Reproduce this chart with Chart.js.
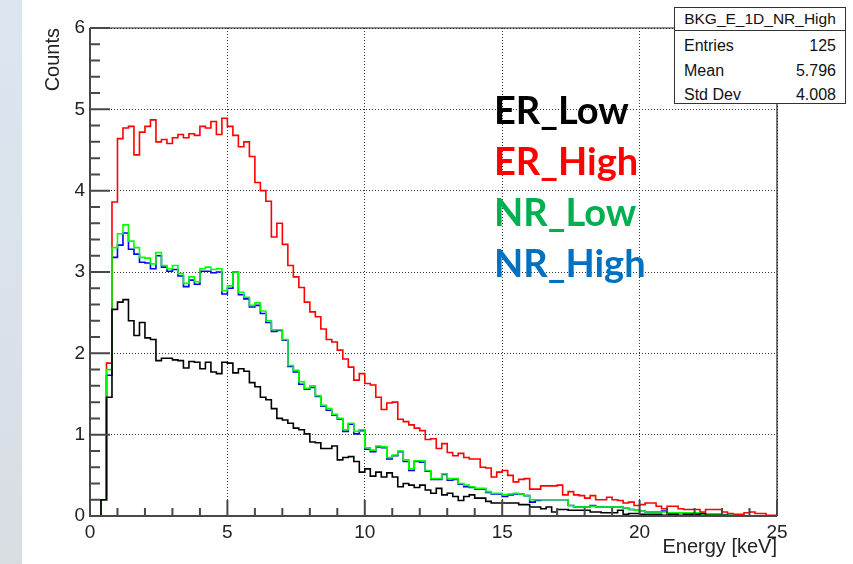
<!DOCTYPE html>
<html>
<head>
<meta charset="utf-8">
<title>BKG_E_1D</title>
<script src="https://cdn.jsdelivr.net/npm/chart.js@4.4.1/dist/chart.umd.min.js"></script>
<style>
  html, body { margin: 0; padding: 0; background: #fff; }
  #page { position: relative; width: 853px; height: 564px; overflow: hidden; background: #fff; }
  #strip { position: absolute; left: 0; top: 0; width: 22px; height: 564px;
           background: linear-gradient(#dce6f1, #d8dde2); }
  #plot { position: absolute; left: 0; top: 0; }
  .stats { position: absolute; left: 674px; width: 172px; background: #fff; border: 1px solid #333;
           font-family: "Liberation Sans", Arial, sans-serif; color: #111; box-sizing: border-box; }
  #statsTitle { top: 7px; height: 24px; font-size: 15.5px; line-height: 22px; text-align: center; }
  #statsBody { top: 30px; height: 74px; padding: 3px 9px 0 9px; font-size: 16px; }
  #statsBody .row { display: flex; justify-content: space-between; height: 24.5px; line-height: 24px; }
  .tag { position: absolute; left: 494px; font-family: Lato, "Open Sans", sans-serif; font-weight: 700;
         font-size: 38px; line-height: 38px; white-space: nowrap; }
</style>
</head>
<body>
<div id="page">
  <div id="strip"></div>
  <canvas id="plot" width="853" height="564"></canvas>
  <div class="stats" id="statsTitle"></div>
  <div class="stats" id="statsBody"></div>
  <div id="tags"></div>
</div>
<script>
// histogram binning: 125 bins of 0.2 keV from 0 to 25 keV
const binWidth = 0.2;
const xRange = [0, 25];
const yRange = [0, 6];

// counts per bin
const erLow = [
  0, 0, 0.20, 1.46, 2.54, 2.63, 2.66, 2.40, 2.22, 2.38,
  2.19, 2.17, 1.91, 1.94, 1.94, 1.92, 1.91, 1.82, 1.90, 1.89,
  1.81, 1.89, 1.77, 1.75, 1.89, 1.88, 1.76, 1.81, 1.78, 1.64,
  1.59, 1.46, 1.43, 1.32, 1.20, 1.18, 1.14, 1.08, 1.06, 1.01,
  0.91, 0.90, 0.83, 0.83, 0.86, 0.69, 0.72, 0.73, 0.67, 0.54,
  0.58, 0.49, 0.54, 0.48, 0.53, 0.48, 0.36, 0.40, 0.38, 0.35,
  0.38, 0.32, 0.28, 0.34, 0.26, 0.28, 0.24, 0.19, 0.24, 0.26,
  0.22, 0.22, 0.18, 0.16, 0.16, 0.16, 0.16, 0.16, 0.14, 0.14,
  0.11, 0.11, 0.09, 0.11, 0.05, 0.08, 0.08, 0.07, 0.07, 0.07,
  0.07, 0.05, 0.05, 0.04, 0.04, 0.04, 0.07, 0.02, 0.03, 0.03,
  0.02, 0.02, 0.02, 0.02, 0.01, 0.02, 0.02, 0.01, 0.02, 0.02,
  0.02, 0.03, 0.01, 0.01, 0.01, 0.01, 0, 0, 0, 0,
  0, 0, 0, 0, 0
];
const erHigh = [
  0, 0, 0.20, 1.88, 3.86, 4.64, 4.77, 4.79, 4.44, 4.72,
  4.79, 4.87, 4.60, 4.63, 4.58, 4.65, 4.69, 4.65, 4.70, 4.68,
  4.79, 4.77, 4.85, 4.69, 4.89, 4.79, 4.68, 4.54, 4.60, 4.42,
  4.10, 4.00, 3.87, 3.43, 3.60, 3.34, 3.08, 2.94, 2.81, 2.63,
  2.51, 2.45, 2.30, 2.17, 2.14, 2.04, 1.93, 1.83, 1.67, 1.75,
  1.63, 1.61, 1.46, 1.31, 1.39, 1.40, 1.19, 1.16, 1.12, 1.08,
  1.05, 0.94, 0.95, 0.83, 0.89, 0.78, 0.74, 0.77, 0.72, 0.70,
  0.70, 0.60, 0.59, 0.48, 0.54, 0.56, 0.50, 0.42, 0.45, 0.46,
  0.33, 0.33, 0.37, 0.37, 0.37, 0.38, 0.26, 0.30, 0.26, 0.25,
  0.22, 0.25, 0.20, 0.20, 0.23, 0.20, 0.19, 0.16, 0.17, 0.13,
  0.14, 0.16, 0.16, 0.12, 0.09, 0.12, 0.12, 0.09, 0.08, 0.08,
  0.08, 0.05, 0.08, 0.08, 0.08, 0.05, 0.03, 0.02, 0.02, 0.04,
  0.05, 0.03, 0.03, 0.01, 0.01
];
const nrLow = [
  0, 0, 0.20, 1.80, 3.30, 3.47, 3.58, 3.38, 3.30, 3.18,
  3.17, 3.10, 3.24, 3.08, 3.04, 3.08, 2.98, 2.86, 2.94, 2.88,
  3.04, 3.06, 3.03, 3.04, 2.77, 2.83, 3.00, 2.75, 2.69, 2.59,
  2.62, 2.52, 2.40, 2.29, 2.29, 2.17, 1.85, 1.79, 1.65, 1.57,
  1.60, 1.48, 1.36, 1.32, 1.25, 1.20, 1.06, 1.14, 1.04, 1.06,
  0.84, 0.81, 0.86, 0.85, 0.72, 0.75, 0.80, 0.69, 0.58, 0.68,
  0.68, 0.56, 0.46, 0.46, 0.52, 0.46, 0.46, 0.40, 0.38, 0.36,
  0.34, 0.34, 0.30, 0.28, 0.28, 0.26, 0.27, 0.28, 0.27, 0.25,
  0.20, 0.20, 0.20, 0.20, 0.20, 0.20, 0.20, 0.13, 0.11, 0.11,
  0.11, 0.12, 0.11, 0.11, 0.11, 0.11, 0.11, 0.10, 0.08, 0.07,
  0.06, 0.05, 0.05, 0.05, 0.05, 0.04, 0.04, 0.04, 0.04, 0.04,
  0.04, 0.02, 0.02, 0.02, 0.02, 0.01, 0.01, 0, 0, 0,
  0, 0, 0, 0, 0
];
const nrHigh = [
  0, 0, 0.20, 1.73, 3.18, 3.33, 3.48, 3.28, 3.22, 3.12,
  3.11, 3.04, 3.20, 3.06, 3.01, 3.03, 2.95, 2.82, 2.90, 2.85,
  3.01, 3.01, 2.99, 3.00, 2.73, 2.80, 3.00, 2.72, 2.67, 2.57,
  2.59, 2.49, 2.38, 2.27, 2.28, 2.16, 1.84, 1.77, 1.62, 1.56,
  1.58, 1.47, 1.35, 1.30, 1.24, 1.19, 1.04, 1.13, 1.01, 1.05,
  0.82, 0.79, 0.85, 0.84, 0.70, 0.74, 0.79, 0.67, 0.56, 0.67,
  0.66, 0.55, 0.45, 0.45, 0.51, 0.44, 0.45, 0.39, 0.36, 0.35,
  0.33, 0.33, 0.29, 0.27, 0.27, 0.24, 0.26, 0.27, 0.27, 0.25,
  0.17, 0.19, 0.20, 0.20, 0.20, 0.20, 0.20, 0.13, 0.11, 0.11,
  0.11, 0.13, 0.11, 0.11, 0.11, 0.11, 0.11, 0.10, 0.08, 0.07,
  0.06, 0.05, 0.05, 0.05, 0.06, 0.04, 0.04, 0.04, 0.04, 0.04,
  0.04, 0.02, 0.02, 0.02, 0.02, 0.01, 0.01, 0, 0, 0,
  0, 0, 0, 0, 0
];

// stats box of the first drawn histogram
const statsName = 'BKG_E_1D_NR_High';
const statsLabels = ['Entries', 'Mean', 'Std Dev'];
const statsValues = ['125', '5.796', '4.008'];

// on-plot labels and their colours
const tagNames = ['ER_Low', 'ER_High', 'NR_Low', 'NR_High'];
const tagColors = ['#000000', '#ff0000', '#00b050', '#0070c0'];

// left bin edges with the value, plus the closing edge
function toSteps(values) {
  const pts = values.map((v, i) => ({ x: i * binWidth, y: v }));
  pts.push({ x: values.length * binWidth, y: values[values.length - 1] });
  return pts;
}

function histo(label, values, color, order) {
  return {
    label: label,
    data: toSteps(values),
    borderColor: color,
    borderWidth: 1.6,
    stepped: 'before', // horizontal run first, so each value spans its own bin
    pointRadius: 0,
    fill: false,
    order: order
  };
}

// ROOT-style frame with inward major/minor ticks
const rootFrame = {
  id: 'rootFrame',
  afterDatasetsDraw(chart) {
    const { ctx, chartArea: a, scales: { x, y } } = chart;
    ctx.save();
    ctx.lineCap = 'butt';

    ctx.strokeStyle = '#222';
    ctx.lineWidth = 1.2;
    ctx.beginPath();
    ctx.moveTo(a.left, a.top);
    ctx.lineTo(a.right, a.top);
    ctx.lineTo(a.right, a.bottom);
    ctx.stroke();

    ctx.strokeStyle = '#484848';
    ctx.lineWidth = 2;
    ctx.beginPath();
    ctx.moveTo(a.left, a.top);
    ctx.lineTo(a.left, a.bottom);
    ctx.lineTo(a.right, a.bottom);
    ctx.stroke();

    ctx.beginPath();
    for (let i = 0; i <= 30; i++) {
      const py = y.getPixelForValue(i / 5);
      const len = i % 5 === 0 ? 20 : 10;
      ctx.moveTo(a.left, py);
      ctx.lineTo(a.left + len, py);
    }
    for (let i = 0; i <= 25; i++) {
      const px = x.getPixelForValue(i);
      const len = i % 5 === 0 ? 16 : 8;
      ctx.moveTo(px, a.bottom);
      ctx.lineTo(px, a.bottom - len);
    }
    ctx.stroke();
    ctx.restore();
  }
};

const labelFont = { family: '"Liberation Sans", Arial, sans-serif', size: 19 };
const titleFont = { family: '"Liberation Sans", Arial, sans-serif', size: 20 };

new Chart(document.getElementById('plot'), {
  type: 'line',
  data: {
    datasets: [
      histo('ER_Low', erLow, '#000000', 0),
      histo('NR_Low', nrLow, '#00ff00', 1),
      histo('ER_High', erHigh, '#ff0000', 2),
      histo('NR_High', nrHigh, '#0000ff', 3)
    ]
  },
  options: {
    responsive: false,
    animation: false,
    layout: { padding: { left: 0, top: 28, right: 76, bottom: 0 } },
    plugins: { legend: { display: false }, tooltip: { enabled: false } },
    scales: {
      x: {
        type: 'linear',
        min: xRange[0],
        max: xRange[1],
        ticks: { stepSize: 5, font: labelFont, color: '#222', padding: 5, maxRotation: 0, autoSkip: false },
        grid: { color: '#333', lineWidth: 1, drawTicks: false },
        border: { display: false, dash: [1, 2] },
        title: { display: true, text: 'Energy [keV]', align: 'end', font: titleFont, color: '#222',
                 padding: { top: 0, bottom: 5 } },
        afterFit: (s) => { s.height = 48; }
      },
      y: {
        min: yRange[0],
        max: yRange[1],
        ticks: { stepSize: 1, font: labelFont, color: '#222', padding: 5 },
        grid: { color: '#333', lineWidth: 1, drawTicks: false },
        border: { display: false, dash: [1, 2] },
        title: { display: true, text: 'Counts', align: 'end', font: titleFont, color: '#222',
                 padding: { top: 41, bottom: 0 } },
        afterFit: (s) => { s.width = 90; }
      }
    }
  },
  plugins: [rootFrame]
});

// stats box
document.getElementById('statsTitle').textContent = statsName;
const body = document.getElementById('statsBody');
statsLabels.forEach((lab, i) => {
  const row = document.createElement('div');
  row.className = 'row';
  row.innerHTML = '<span>' + lab + '</span><span>' + statsValues[i] + '</span>';
  body.appendChild(row);
});

// coloured series names
const tags = document.getElementById('tags');
tagNames.forEach((name, i) => {
  const d = document.createElement('div');
  d.className = 'tag';
  d.style.top = (90 + i * 51) + 'px';
  d.style.color = tagColors[i];
  d.textContent = name;
  tags.appendChild(d);
});
</script>
</body>
</html>
